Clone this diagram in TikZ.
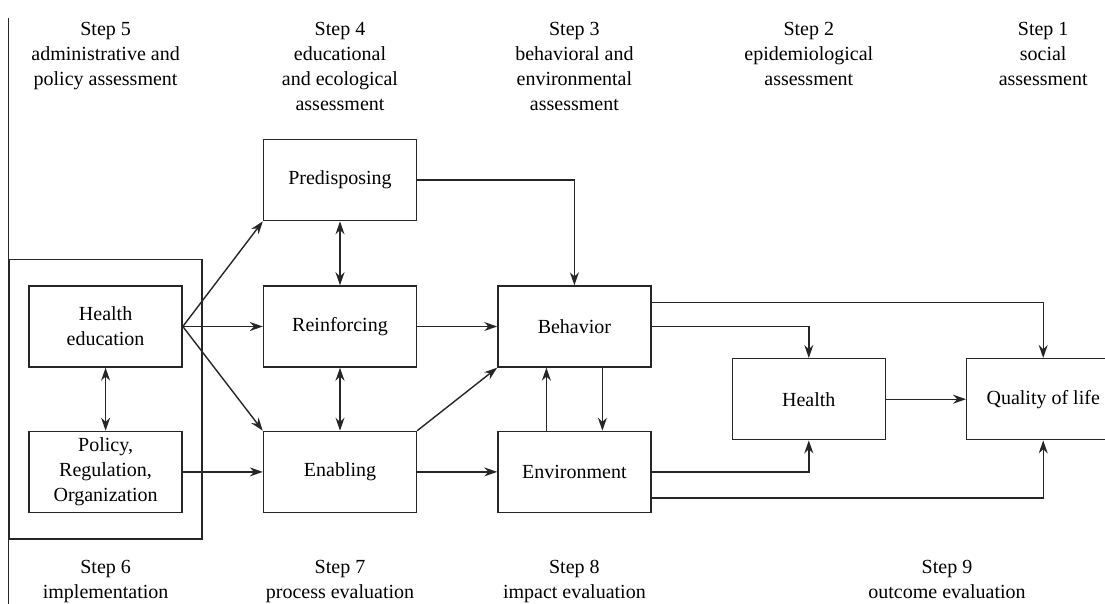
\documentclass[tikz,border=0pt]{standalone}
\usepackage{fontspec}
\setmainfont{Liberation Serif}
\usetikzlibrary{arrows.meta, positioning, fit, calc}

\begin{document}
\begin{tikzpicture}[
  x=1pt, y=-1pt,
  node distance=63pt and 80pt,
  box/.style={rectangle, draw=black!85, line width=1.4pt,
              minimum width=153pt, minimum height=81pt,
              align=center, font=\fontsize{20}{25}\selectfont},
  lbl/.style={align=center, inner sep=0pt, anchor=north,
              font=\fontsize{20}{25}\selectfont},
  arr/.style={-{Stealth[length=13pt, width=9pt]}, line width=1.4pt, black!85},
  darr/.style={{Stealth[length=13pt, width=9pt]}-{Stealth[length=13pt, width=9pt]},
               line width=1.4pt, black!85}
]
\useasboundingbox (0,0) rectangle (1105,604);
% boxes
\node[box] (reinf) at (340,326.5) {Reinforcing};
\node[box, above=64pt of reinf] (pred)   {Predisposing};
\node[box, below=of reinf]      (enab)   {Enabling};
\node[box, left=of reinf]       (hedu)   {Health\\education};
\node[box, below=of hedu]       (policy) {Policy,\\Regulation,\\Organization};
\node[box, right=of reinf]      (behav)  {Behavior};
\node[box, right=of enab]       (envir)  {Environment};
\node[box, anchor=west] (health) at ($(behav.east)!0.5!(envir.east)+(80pt,0)$) {Health};
\node[box, right=of health]     (qol)    {Quality of life};
\node[draw=black!85, line width=1.4pt, inner xsep=19pt, inner ysep=26pt,
      fit=(hedu)(policy)] (impl) {};
\coordinate (ltop) at (impl.north west |- 0,18);
\coordinate (lbot) at (impl.north west |- 0,610);
\draw[line width=1.4pt, black!85] (ltop) -- (lbot);
% step labels
\node[lbl] (s5) at (hedu |- 0,22)   {Step 5\\administrative and\\policy assessment};
\node[lbl] (s4) at (reinf |- 0,22)  {Step 4\\educational\\and ecological\\assessment};
\node[lbl] (s3) at (behav |- 0,22)  {Step 3\\behavioral and\\environmental\\assessment};
\node[lbl] (s2) at (health |- 0,22) {Step 2\\epidemiological\\assessment};
\node[lbl] (s1) at (qol |- 0,22)    {Step 1\\social\\assessment};
\node[lbl] (s6) at (hedu |- 0,560)  {Step 6\\implementation};
\node[lbl] (s7) at (reinf |- 0,560) {Step 7\\process evaluation};
\node[lbl] (s8) at (behav |- 0,560) {Step 8\\impact evaluation};
\node[lbl] (s9) at (947,560)        {Step 9\\outcome evaluation};
% connectors
\draw[arr]  (hedu.east) -- (pred.south west);
\draw[arr]  (hedu) -- (reinf);
\draw[arr]  (hedu.east) -- (enab.north west);
\draw[darr] (hedu) -- (policy);
\draw[arr]  (policy) -- (enab);
\draw[darr] (pred) -- (reinf);
\draw[darr] (reinf) -- (enab);
\draw[arr]  (pred.east) -| (behav.north);
\draw[arr]  (reinf) -- (behav);
\draw[arr]  (enab.north east) -- (behav.south west);
\draw[arr]  (enab) -- (envir);
\draw[arr]  ([xshift=28pt]behav.south) -- ([xshift=28pt]behav.south |- envir.north);
\draw[arr]  ([xshift=-28pt]envir.north) -- ([xshift=-28pt]envir.north |- behav.south);
\draw[arr]  (behav.east) -| (health.north);
\draw[arr]  ([yshift=-17pt]behav.north east) -| (qol.north);
\draw[arr]  (envir.east) -| (health.south);
\draw[arr]  ([yshift=-26pt]envir.east) -| (qol.south);
\draw[arr]  (health) -- (qol);
\end{tikzpicture}
\end{document}
